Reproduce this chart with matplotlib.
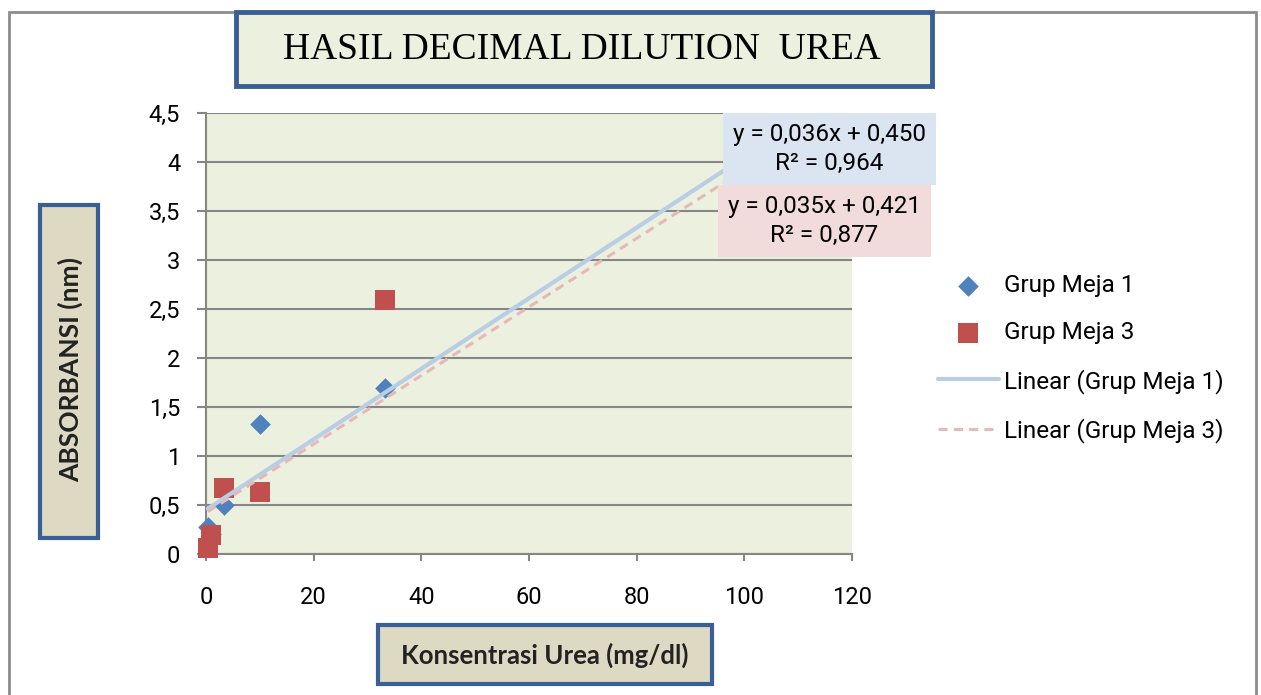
import matplotlib
matplotlib.use('agg')
import matplotlib.pyplot as plt
from matplotlib.patches import Rectangle
from matplotlib.ticker import FuncFormatter
import numpy as np

# data
konsentrasi = np.array([0.33, 1, 3.33, 10, 33.3, 100])
meja1 = np.array([0.28, 0.20, 0.50, 1.33, 1.69, 3.98])
meja3 = np.array([0.06, 0.19, 0.67, 0.63, 2.59, 3.61])
series_names = ['Grup Meja 1', 'Grup Meja 3']
tren_slope = [0.036, 0.035]
tren_intercept = [0.450, 0.421]
tren_r2 = [0.964, 0.877]
x_ticks = [0, 20, 40, 60, 80, 100, 120]
y_ticks = [0, 0.5, 1, 1.5, 2, 2.5, 3, 3.5, 4, 4.5]

W, H = 1261, 695
plt.rcParams['font.family'] = ['Roboto', 'DejaVu Sans']


def fx(px):
    return px / W


def fy(py):
    return 1 - py / H


def koma(v, pos=None):
    return ('%g' % v).replace('.', ',')


def box(x0, y0, x1, y1, face, edge, lw):
    r = Rectangle((fx(x0), fy(y1)), fx(x1) - fx(x0), fy(y0) - fy(y1),
                  transform=fig.transFigure, facecolor=face, edgecolor=edge,
                  linewidth=lw, zorder=5)
    fig.patches.append(r)


fig = plt.figure(figsize=(W / 100, H / 100), dpi=100)

# outer frame of the chart
fig.patches.append(Rectangle((fx(9), fy(700)), fx(1256) - fx(9), fy(12) - fy(700),
                             transform=fig.transFigure, facecolor='none',
                             edgecolor='#8c8c8c', linewidth=2, zorder=1))

ax = fig.add_axes([fx(206), fy(554), fx(852) - fx(206), fy(113) - fy(554)])
ax.set_facecolor('#ebf1de')

ax.scatter(konsentrasi, meja1, marker='D', s=10.5 ** 2, color='#4f81bd',
           label=series_names[0], zorder=3, clip_on=False, linewidths=0)
ax.scatter(konsentrasi, meja3, marker='s', s=14.5 ** 2, color='#c0504d',
           label=series_names[1], zorder=3, clip_on=False, linewidths=0)

xx = np.array([konsentrasi.min(), konsentrasi.max()])
ax.plot(xx, tren_slope[0] * xx + tren_intercept[0], color='#b9cde5', lw=3,
        label='Linear (Grup Meja 1)', zorder=4, solid_capstyle='round')
ax.plot(xx, tren_slope[1] * xx + tren_intercept[1], color='#e6b9b8', lw=2.2,
        ls=(0, (3, 2)), label='Linear (Grup Meja 3)', zorder=4)

ax.set_xlim(0, 120)
ax.set_ylim(0, 4.5)
ax.set_xticks(x_ticks)
ax.set_yticks(y_ticks)
ax.xaxis.set_major_formatter(FuncFormatter(koma))
ax.yaxis.set_major_formatter(FuncFormatter(koma))
ax.grid(axis='y', color='#868686', lw=1.5, zorder=0)
ax.set_axisbelow(True)
for s in ['top', 'right']:
    ax.spines[s].set_visible(False)
ax.spines['left'].set_color('#868686')
ax.spines['bottom'].set_color('#868686')
ax.spines['left'].set_linewidth(1.5)
ax.spines['bottom'].set_linewidth(1.5)
ax.tick_params(axis='y', length=6.5, width=1.5, color='#868686', pad=12,
               labelsize=17)
ax.tick_params(axis='x', length=5, width=1.5, color='#868686', pad=18,
               labelsize=17)

leg = ax.legend(loc='upper left', bbox_to_anchor=(fx(938), fy(274)),
                bbox_transform=fig.transFigure, frameon=False, fontsize=17.5,
                handlelength=2.5, handletextpad=0.2, labelspacing=1.0,
                borderpad=0, borderaxespad=0)

# title box
box(236, 12, 932, 86, '#ebf1de', '#3a5f94', 3.5)
fig.text(fx(582), fy(50), 'HASIL DECIMAL DILUTION  UREA', ha='center', va='center',
         family=['Liberation Serif', 'DejaVu Serif'], fontsize=27, zorder=6)

# axis title boxes
box(40, 205, 98, 538, '#ddd9c3', '#3a5f94', 3)
fig.text(fx(70), fy(369), 'ABSORBANSI (nm)', rotation=90, ha='center', va='center',
         family=['Lato', 'DejaVu Sans'], fontsize=19, fontweight='bold',
         color='#222222', zorder=6)
box(378, 625, 712, 684, '#ddd9c3', '#3a5f94', 3)
fig.text(fx(545), fy(655), 'Konsentrasi Urea (mg/dl)', ha='center', va='center',
         family=['Lato', 'DejaVu Sans'], fontsize=18.5, fontweight='bold',
         color='#222222', zorder=6)

# trendline equation labels
eq_boxes = [(723, 113, 936, 185, '#dbe5f1'), (718, 185, 931, 257, '#f2dcdb')]
for i, (x0, y0, x1, y1, face) in enumerate(eq_boxes):
    box(x0, y0, x1, y1, face, 'none', 0)
    cx = (x0 + x1) / 2
    fig.text(fx(cx), fy(y0 + 21), 'y = %sx + %s' % (koma(tren_slope[i]),
             ('%.3f' % tren_intercept[i]).replace('.', ',')),
             ha='center', va='center', fontsize=17.5, zorder=6)
    fig.text(fx(cx), fy(y0 + 50), 'R² = %s' % ('%.3f' % tren_r2[i]).replace('.', ','),
             ha='center', va='center', fontsize=17.5, zorder=6)

fig.savefig('out.png', dpi=100)
